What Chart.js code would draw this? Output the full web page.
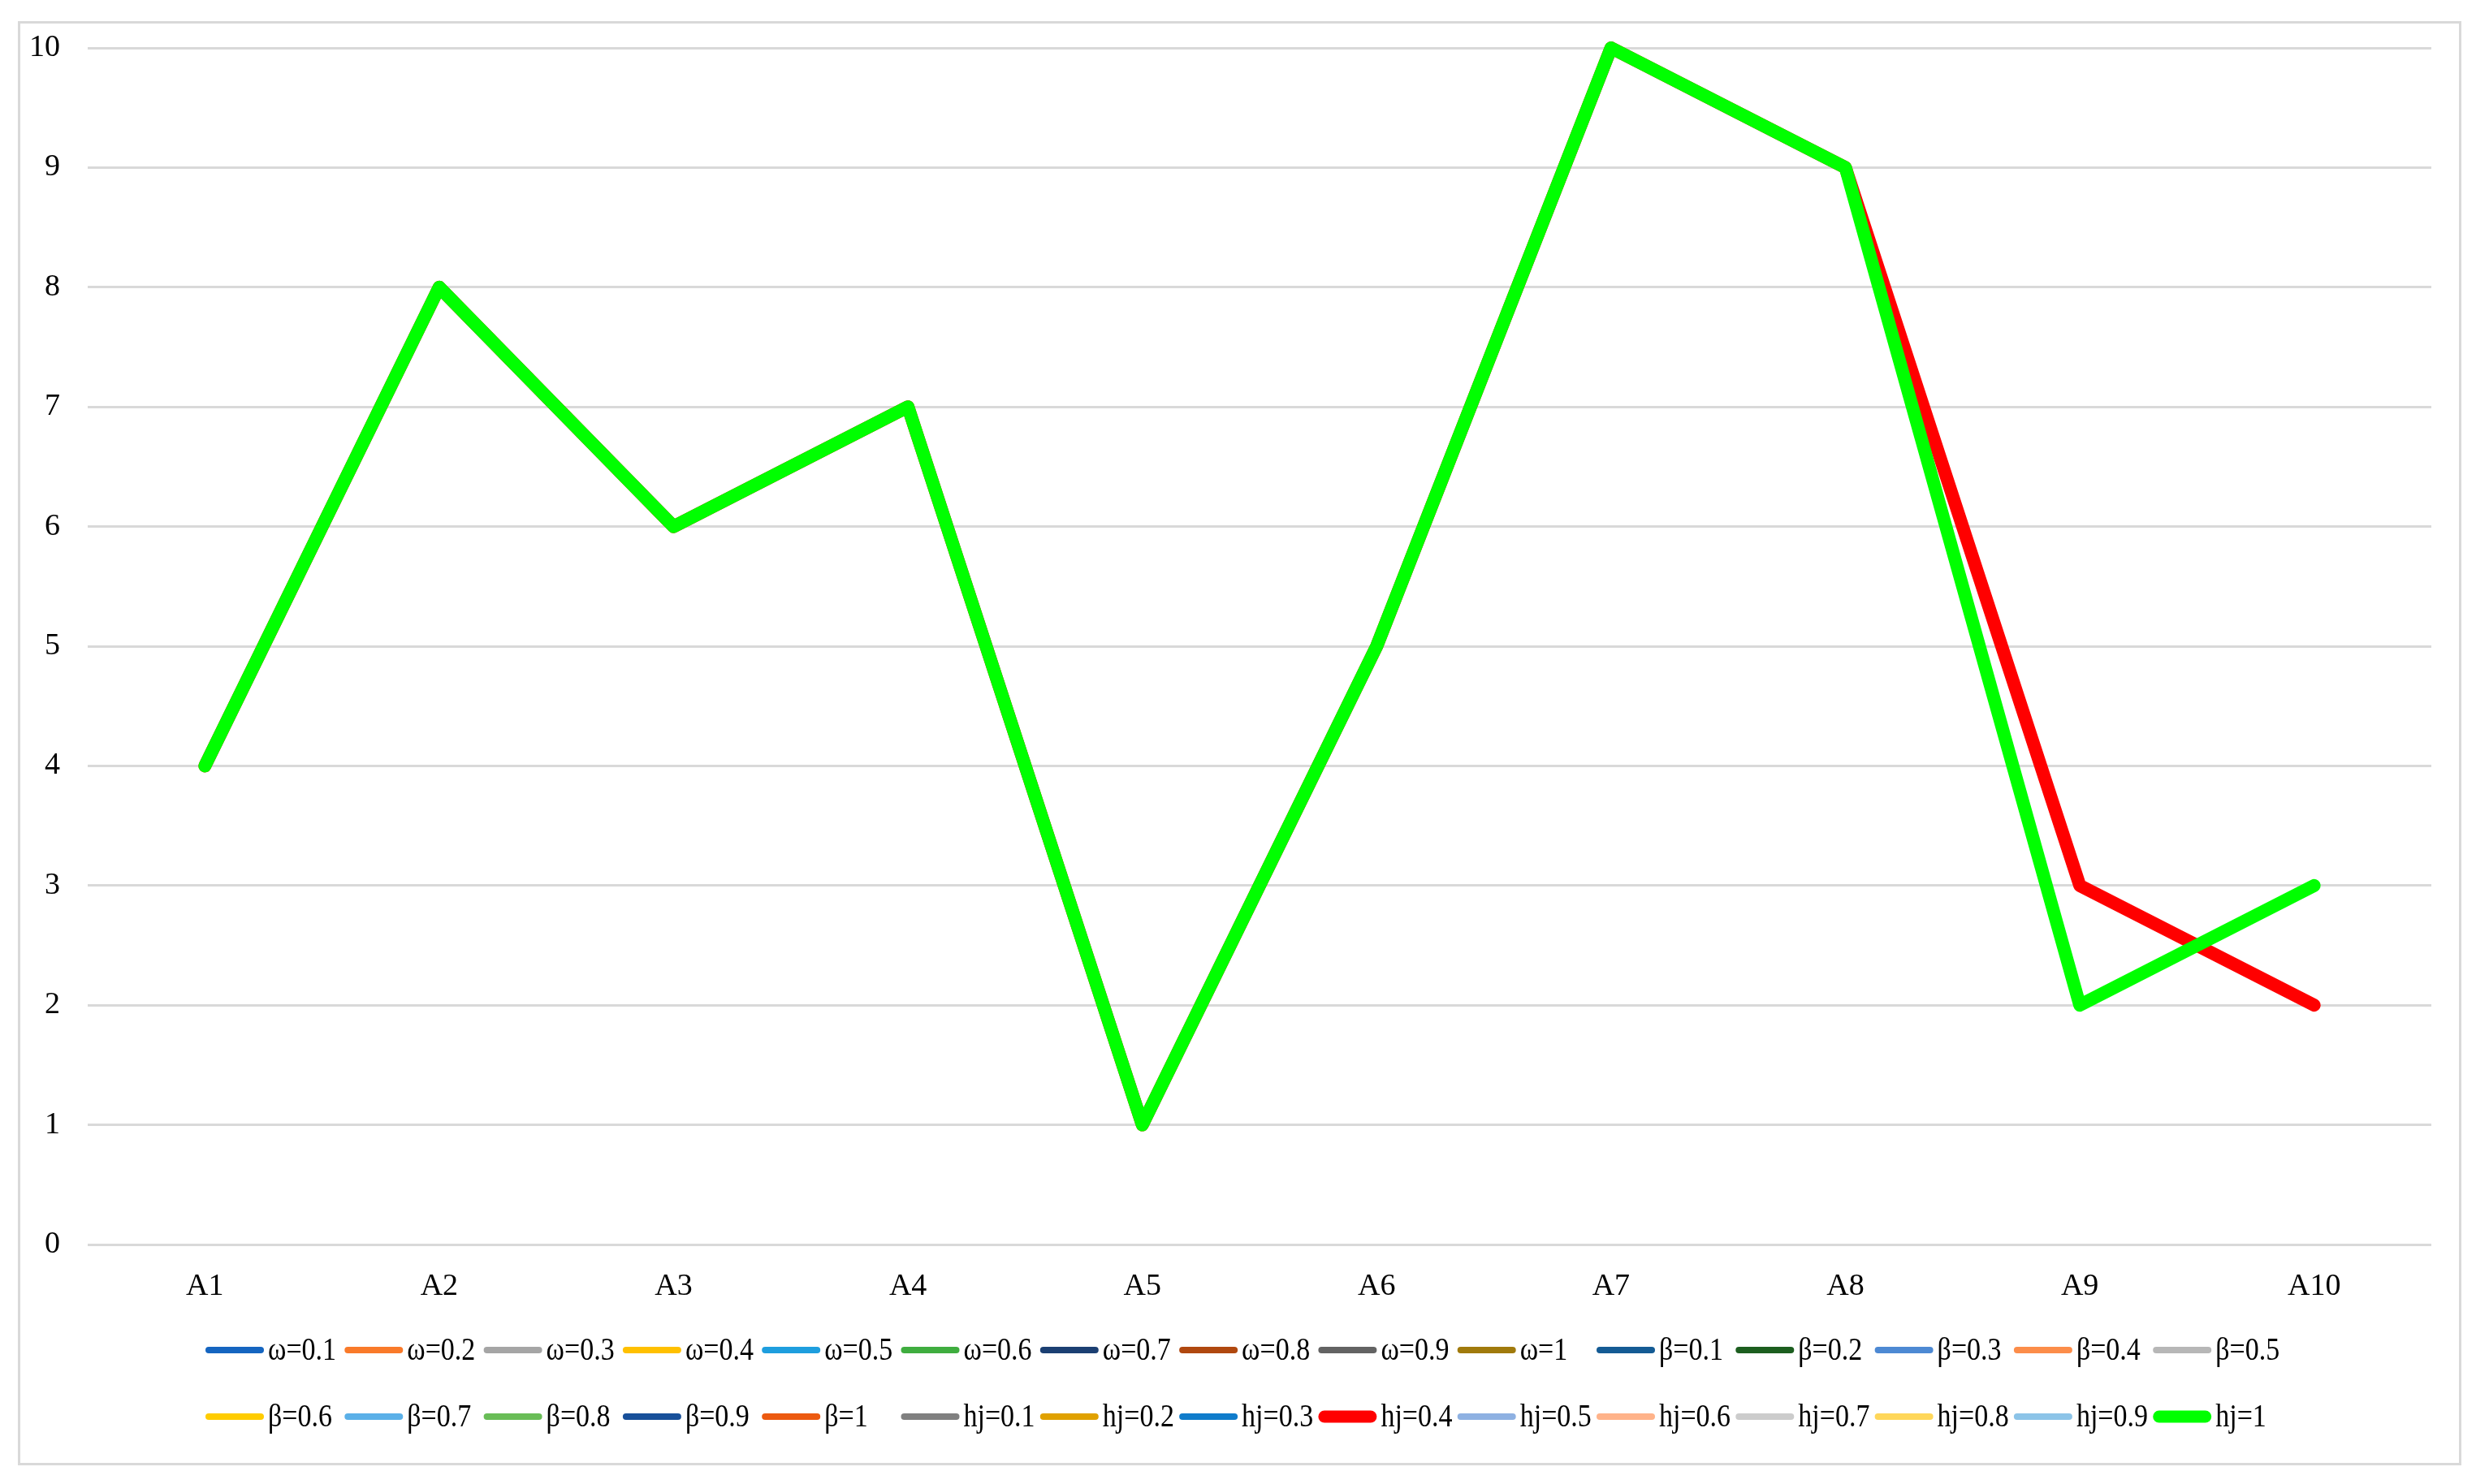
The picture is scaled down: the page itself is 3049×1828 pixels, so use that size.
<!DOCTYPE html>
<html>
<head>
<meta charset="utf-8">
<script src="https://cdn.jsdelivr.net/npm/chart.js@4/dist/chart.umd.min.js"></script>
<style>
  html, body { margin: 0; padding: 0; background: #ffffff; }
  #wrap { position: relative; width: 3049px; height: 1828px; }
  canvas { display: block; }
</style>
</head>
<body>
<div id="wrap"><canvas id="c" width="3049" height="1828"></canvas></div>
<script>
// ---- Data ----
const categories = ['A1', 'A2', 'A3', 'A4', 'A5', 'A6', 'A7', 'A8', 'A9', 'A10'];
const yTicks = [0, 1, 2, 3, 4, 5, 6, 7, 8, 9, 10];

const seriesLabels = [
  'ω=0.1', 'ω=0.2', 'ω=0.3', 'ω=0.4', 'ω=0.5', 'ω=0.6', 'ω=0.7', 'ω=0.8', 'ω=0.9', 'ω=1',
  'β=0.1', 'β=0.2', 'β=0.3', 'β=0.4', 'β=0.5', 'β=0.6', 'β=0.7', 'β=0.8', 'β=0.9', 'β=1',
  'hj=0.1', 'hj=0.2', 'hj=0.3', 'hj=0.4', 'hj=0.5', 'hj=0.6', 'hj=0.7', 'hj=0.8', 'hj=0.9', 'hj=1'
];

// ω series
const w01 = [4, 8, 6, 7, 1, 5, 10, 9, 2, 3];
const w02 = [4, 8, 6, 7, 1, 5, 10, 9, 2, 3];
const w03 = [4, 8, 6, 7, 1, 5, 10, 9, 2, 3];
const w04 = [4, 8, 6, 7, 1, 5, 10, 9, 2, 3];
const w05 = [4, 8, 6, 7, 1, 5, 10, 9, 2, 3];
const w06 = [4, 8, 6, 7, 1, 5, 10, 9, 2, 3];
const w07 = [4, 8, 6, 7, 1, 5, 10, 9, 2, 3];
const w08 = [4, 8, 6, 7, 1, 5, 10, 9, 2, 3];
const w09 = [4, 8, 6, 7, 1, 5, 10, 9, 2, 3];
const w10 = [4, 8, 6, 7, 1, 5, 10, 9, 2, 3];
// β series
const b01 = [4, 8, 6, 7, 1, 5, 10, 9, 2, 3];
const b02 = [4, 8, 6, 7, 1, 5, 10, 9, 2, 3];
const b03 = [4, 8, 6, 7, 1, 5, 10, 9, 2, 3];
const b04 = [4, 8, 6, 7, 1, 5, 10, 9, 2, 3];
const b05 = [4, 8, 6, 7, 1, 5, 10, 9, 2, 3];
const b06 = [4, 8, 6, 7, 1, 5, 10, 9, 2, 3];
const b07 = [4, 8, 6, 7, 1, 5, 10, 9, 2, 3];
const b08 = [4, 8, 6, 7, 1, 5, 10, 9, 2, 3];
const b09 = [4, 8, 6, 7, 1, 5, 10, 9, 2, 3];
const b10 = [4, 8, 6, 7, 1, 5, 10, 9, 2, 3];
// hj series
const h01 = [4, 8, 6, 7, 1, 5, 10, 9, 2, 3];
const h02 = [4, 8, 6, 7, 1, 5, 10, 9, 2, 3];
const h03 = [4, 8, 6, 7, 1, 5, 10, 9, 2, 3];
const h04 = [4, 8, 6, 7, 1, 5, 10, 9, 3, 2];
const h05 = [4, 8, 6, 7, 1, 5, 10, 9, 2, 3];
const h06 = [4, 8, 6, 7, 1, 5, 10, 9, 2, 3];
const h07 = [4, 8, 6, 7, 1, 5, 10, 9, 2, 3];
const h08 = [4, 8, 6, 7, 1, 5, 10, 9, 2, 3];
const h09 = [4, 8, 6, 7, 1, 5, 10, 9, 2, 3];
const h10 = [4, 8, 6, 7, 1, 5, 10, 9, 2, 3];

const seriesValues = [
  w01, w02, w03, w04, w05, w06, w07, w08, w09, w10,
  b01, b02, b03, b04, b05, b06, b07, b08, b09, b10,
  h01, h02, h03, h04, h05, h06, h07, h08, h09, h10
];

const seriesColors = [
  '#1565C0', '#F97A2A', '#A5A5A5', '#FFC000', '#1E9EDE', '#3FAD3F', '#1B3F72', '#B0480F', '#636363', '#A07A0C',
  '#145B94', '#1C5E1F', '#4D89D3', '#FC8D4A', '#B7B7B7', '#FFCC00', '#5BB0E8', '#69BD57', '#18509A', '#EC5A10',
  '#808080', '#E0A100', '#0F7CCB', '#FF0000', '#8EB1E2', '#FFB38A', '#CCCCCC', '#FFD75A', '#8CC4E8', '#00FF00'
];
const thickSeries = ['hj=0.4', 'hj=1'];

// ---- Build datasets ----
const datasets = seriesLabels.map((lab, i) => ({
  label: lab,
  data: seriesValues[i],
  borderColor: seriesColors[i],
  backgroundColor: seriesColors[i],
  borderWidth: thickSeries.includes(lab) ? 16 : 8,
  pointRadius: 0,
  pointHoverRadius: 0,
  borderCapStyle: 'round',
  borderJoinStyle: 'round',
  tension: 0,
  fill: false,
  clip: false,
  order: seriesLabels.length - i
}));

const FONT = "'Liberation Serif', 'Times New Roman', serif";

const frame = {
  id: 'frame',
  beforeDraw(chart) {
    const ctx = chart.ctx;
    ctx.save();
    ctx.fillStyle = '#ffffff';
    ctx.fillRect(0, 0, chart.width, chart.height);
    ctx.strokeStyle = '#d9d9d9';
    ctx.lineWidth = 3;
    ctx.strokeRect(23.5, 27.5, 3006, 1776);
    ctx.restore();
  }
};

const slotLegend = {
  id: 'slotLegend',
  afterDraw(chart, args, opts) {
    const ctx = chart.ctx;
    const ds = chart.data.datasets;
    ctx.save();
    ds.forEach((d, i) => {
      const row = Math.floor(i / opts.perRow);
      const col = i % opts.perRow;
      const x = opts.left + col * opts.slot;
      const y = opts.rows[row];
      ctx.strokeStyle = d.borderColor;
      ctx.lineCap = 'round';
      ctx.lineWidth = d.borderWidth >= 12 ? 15 : 8;
      const cap = ctx.lineWidth / 2;
      ctx.beginPath();
      ctx.moveTo(x + cap, y);
      ctx.lineTo(x + opts.sample - cap, y);
      ctx.stroke();
      // condensed serif text
      ctx.save();
      ctx.translate(x + opts.sample + 5, y + 1);
      ctx.scale(opts.condense, 1);
      ctx.font = opts.fontSize + 'px ' + FONT;
      ctx.textBaseline = 'middle';
      ctx.textAlign = 'left';
      ctx.fillStyle = '#000000';
      ctx.fillText(d.label, 0, 0);
      ctx.restore();
    });
    ctx.restore();
  }
};

new Chart(document.getElementById('c'), {
  type: 'line',
  data: { labels: categories, datasets: datasets },
  options: {
    responsive: false,
    animation: false,
    devicePixelRatio: 1,
    layout: { padding: { left: 0, right: 55, top: 59, bottom: 0 } },
    plugins: {
      legend: { display: false },
      tooltip: { enabled: false },
      slotLegend: { left: 253, slot: 171.3, sample: 72, perRow: 15, rows: [1663, 1745], fontSize: 40, condense: 0.85 }
    },
    scales: {
      x: {
        offset: true,
        grid: { display: false, drawTicks: false },
        border: { display: false },
        ticks: { color: '#000000', font: { family: FONT, size: 38 }, padding: 29, maxRotation: 0, autoSkip: false },
        afterFit(scale) { scale.height = 295; }
      },
      y: {
        min: 0,
        max: 10,
        afterBuildTicks(scale) { scale.ticks = yTicks.map(v => ({ value: v })); },
        grid: { color: '#d9d9d9', lineWidth: 3, drawTicks: false },
        border: { display: false },
        ticks: { color: '#000000', font: { family: FONT, size: 38 }, padding: 34 },
        afterFit(scale) { scale.width = 108; }
      }
    }
  },
  plugins: [frame, slotLegend]
});
</script>
</body>
</html>
